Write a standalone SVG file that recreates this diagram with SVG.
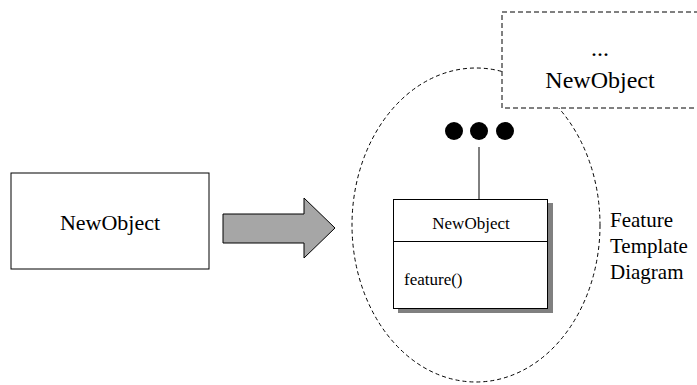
<svg xmlns="http://www.w3.org/2000/svg" width="697" height="385" viewBox="0 0 697 385">
<style>
text{font-family:"Liberation Serif","Times New Roman",serif;fill:#000}
.box{fill:#fff;stroke:#000;stroke-width:1}
</style>
<rect width="697" height="385" fill="#fff"/>
<g id="template-ellipse">
<ellipse cx="476" cy="225" rx="124" ry="157" fill="none" stroke="#000" stroke-width="1" stroke-dasharray="4,3"/>
</g>
<g id="other-newobject">
<rect x="502" y="12" width="200" height="96" fill="#fff" stroke="#000" stroke-width="1" stroke-dasharray="5,3"/>
<text x="600" y="56" font-size="24" text-anchor="middle">...</text>
<text x="600" y="88" font-size="24" text-anchor="middle">NewObject</text>
</g>
<g id="source-newobject">
<rect class="box" x="11" y="173" width="198" height="96"/>
<text x="110" y="230" font-size="22" text-anchor="middle">NewObject</text>
</g>
<g id="connectors">
<polygon points="223,214 304,214 304,198 335,228 304,258 304,243 223,243" fill="#a6a6a6" stroke="#000" stroke-width="1"/>
<line x1="479" y1="147" x2="479" y2="199" stroke="#000" stroke-width="1"/>
</g>
<g id="ellipsis-dots">
<circle cx="454" cy="131" r="9" fill="#000"/>
<circle cx="479" cy="131" r="9" fill="#000"/>
<circle cx="505" cy="131" r="9" fill="#000"/>
</g>
<g id="uml-class">
<rect x="398" y="203" width="155" height="110" fill="#808080"/>
<rect class="box" x="393.5" y="199.5" width="154" height="109"/>
<line x1="394" y1="241.5" x2="548" y2="241.5" stroke="#000" stroke-width="1"/>
<text x="471" y="229" font-size="17" text-anchor="middle">NewObject</text>
<text x="404" y="285" font-size="17">feature()</text>
</g>
<g id="label">
<text x="610" y="227" font-size="21">Feature</text>
<text x="610" y="253" font-size="21">Template</text>
<text x="610" y="279" font-size="21">Diagram</text>
</g>
</svg>
